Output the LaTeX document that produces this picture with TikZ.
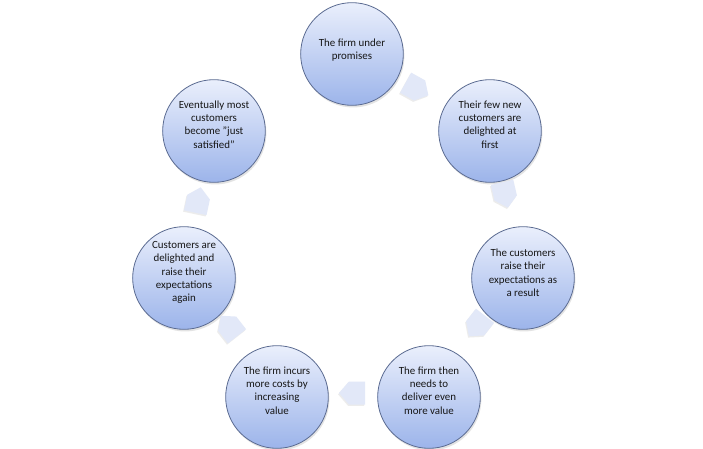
\documentclass[tikz,border=0pt]{standalone}
\usepackage{fontspec}
\setmainfont{Carlito}
\usetikzlibrary{shadows}
\definecolor{circtop}{RGB}{234,239,252}
\definecolor{circbot}{RGB}{156,180,234}
\definecolor{circline}{RGB}{92,108,146}
\definecolor{arrfill}{RGB}{226,232,248}
\definecolor{txt}{RGB}{22,22,22}
\tikzset{
  stage/.style={circle, minimum size=77pt, inner sep=0pt, draw=circline, line width=0.6pt,
    top color=circtop, bottom color=circbot,
    drop shadow={opacity=0.22, shadow xshift=0.8pt, shadow yshift=-1.6pt}},
  stagetext/.style={align=center, font=\fontsize{8.2}{10}\selectfont, text=txt, inner sep=0pt},
  cyclearrow/.style={fill=arrfill, draw=none,
    drop shadow={opacity=0.15, shadow xshift=-0.7pt, shadow yshift=-1pt}}
}
\begin{document}
\begin{tikzpicture}[x=0.75pt,y=-0.75pt]
\useasboundingbox[fill=white] (0,0) rectangle (703,449);
% circles
\node[stage] (c1) at (352,54) {};
\node[stage] (c2) at (490,131) {};
\node[stage] (c3) at (523,278) {};
\node[stage] (c4) at (429,397) {};
\node[stage] (c5) at (277,397) {};
\node[stage] (c6) at (184,278) {};
\node[stage] (c7) at (214,131) {};
% texts
\node[stagetext] (t1) at ([yshift=3pt]c1.center) {The firm under\\promises};
\node[stagetext] (t2) at ([yshift=5pt]c2.center) {Their few new\\customers are\\delighted at\\first};
\node[stagetext] (t3) at ([yshift=4pt]c3.center) {The customers\\raise their\\expectations as\\a result};
\node[stagetext] (t4) at ([yshift=5pt]c4.center) {The firm then\\needs to\\deliver even\\more value};
\node[stagetext] (t5) at ([yshift=5pt]c5.center) {The firm incurs\\more costs by\\increasing\\value};
\node[stagetext] (t6) at ([yshift=4pt]c6.center) {Customers are\\delighted and\\raise their\\expectations\\again};
\node[stagetext] (t7) at ([yshift=5pt]c7.center) {Eventually most\\customers\\become "just\\satisfied"};
% arrows
\foreach \p/\r in {{(417,89)}/-29, {(505,195)}/-77, {(477,326)}/-128, {(352,393)}/180, {(229,326)}/128, {(198,200)}/78}{
  \path[cyclearrow, shift={\p}, rotate=\r] (-13,-11.5) -- (3,-11.5) -- (13,0) -- (3,11.5) -- (-13,11.5) -- cycle;
}
\end{tikzpicture}
\end{document}
